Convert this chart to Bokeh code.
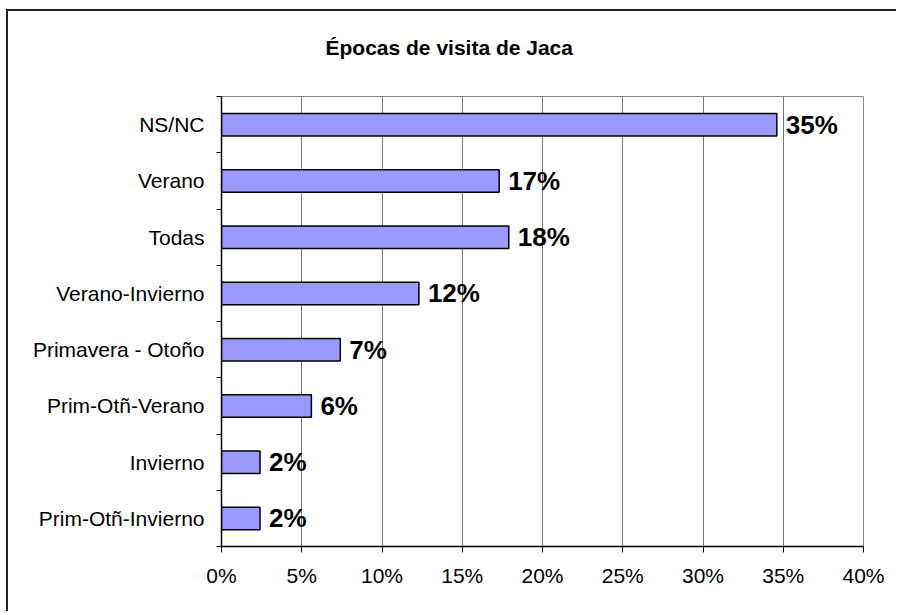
from bokeh.plotting import figure
from bokeh.models import ColumnDataSource, FixedTicker, PrintfTickFormatter, Range1d
from bokeh.core.properties import value
from bokeh.embed import file_html
from bokeh.resources import INLINE

# Data (top to bottom as shown)
categories = ["NS/NC", "Verano", "Todas", "Verano-Invierno", "Primavera - Otoño",
              "Prim-Otñ-Verano", "Invierno", "Prim-Otñ-Invierno"]
percent = [34.6, 17.3, 17.9, 12.3, 7.4, 5.6, 2.4, 2.4]
x_ticks = [0, 5, 10, 15, 20, 25, 30, 35, 40]
title_text = "Épocas de visita de Jaca"

n = len(categories)
ypos = [n - i - 0.5 for i in range(n)]
labels = [f"{v:.0f}%" for v in percent]
boundaries = list(range(0, n + 1))

src = ColumnDataSource(dict(y=ypos, x=percent, cat=categories, lab=labels))

p = figure(width=890, height=602, output_backend="svg", toolbar_location=None,
           x_range=Range1d(0, 40), y_range=Range1d(0, n),
           min_border_left=213, min_border_right=35, min_border_top=85, min_border_bottom=67,
           title=title_text + "\n ")
p.styles = {"border-left": "2px solid #222222", "border-top": "2px solid #222222",
            "margin-left": "6px", "margin-top": "9px"}

# chart title (an empty second line lifts it away from the frame)
p.title.text_font = "Liberation Sans"
p.title.text_font_size = "21px"
p.title.text_font_style = "bold"
p.title.text_color = "black"
p.title.align = "left"
p.title.offset = 104
p.title.standoff = 30

p.hbar(y="y", right="x", left=0, height=0.4, source=src,
       fill_color="#9999FF", line_color="black", line_width=1.5)

p.text(x="x", y="y", text="lab", source=src, x_offset=9,
       text_font=value("Liberation Sans"), text_font_size="26px",
       text_font_style="bold", text_baseline="middle", text_align="left",
       text_color="black")

# X axis
p.xaxis.ticker = FixedTicker(ticks=x_ticks)
p.xaxis.formatter = PrintfTickFormatter(format="%d%%")
p.xaxis.major_tick_out = 6
p.xaxis.major_tick_in = 0
p.xaxis.minor_tick_out = 0
p.xaxis.minor_tick_in = 0
p.xaxis.axis_line_color = "black"
p.xaxis.axis_line_width = 1.5
p.xaxis.major_tick_line_color = "black"
p.xaxis.major_label_text_font = "Liberation Sans"
p.xaxis.major_label_text_font_size = "21px"
p.xaxis.major_label_text_color = "black"
p.xaxis.major_label_standoff = 11

# Y axis: labels at centers, tick marks at boundaries
p.yaxis.ticker = FixedTicker(ticks=ypos, minor_ticks=boundaries)
p.yaxis.major_label_overrides = {y: c for y, c in zip(ypos, categories)}
p.yaxis.major_tick_out = 0
p.yaxis.major_tick_in = 0
p.yaxis.minor_tick_out = 5
p.yaxis.minor_tick_in = 0
p.yaxis.minor_tick_line_color = "black"
p.yaxis.axis_line_color = "black"
p.yaxis.axis_line_width = 1.5
p.yaxis.major_label_text_font = "Liberation Sans"
p.yaxis.major_label_text_font_size = "21px"
p.yaxis.major_label_text_color = "black"
p.yaxis.major_label_standoff = 12

# Grid
p.xgrid.ticker = FixedTicker(ticks=x_ticks)
p.xgrid.grid_line_color = "#777777"
p.xgrid.grid_line_width = 1
p.ygrid.grid_line_color = None

p.outline_line_color = "#888888"
p.outline_line_width = 1
p.background_fill_color = "white"
p.border_fill_color = "white"

open("out.html", "w").write(file_html(p, INLINE))
